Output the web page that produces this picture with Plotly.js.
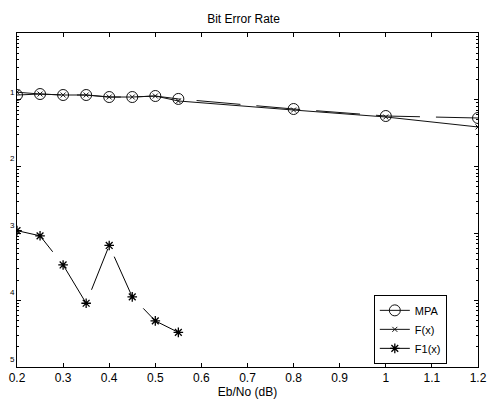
<!DOCTYPE html>
<html><head><meta charset="utf-8">
<script src="https://cdn.plot.ly/plotly-3.0.1.min.js"></script>
<style>html,body{margin:0;padding:0;background:#fff}#c{width:487px;height:400px}</style>
</head><body><div id="c"></div>
<script>
const xMPA = [0.2,0.25,0.3,0.35,0.4,0.45,0.5,0.55,0.8,1.0,1.2];
const yMPA = [0.118,0.122,0.118,0.118,0.110,0.110,0.114,0.103,0.0728,0.0572,0.0534];
const xF = [0.2,0.25,0.3,0.35,0.4,0.45,0.5,0.55,0.8,1.0,1.2];
const yF = [0.130,0.122,0.118,0.118,0.110,0.110,0.114,0.096,0.0703,0.0553,0.0392];
const xF1 = [0.2,0.25,0.3,0.35,0.4,0.45,0.5,0.55];
const yF1 = [1.10e-3,9.2e-4,3.37e-4,9.0e-5,6.6e-4,1.12e-4,4.9e-5,3.3e-5];
const xTicks = [0.2,0.3,0.4,0.5,0.6,0.7,0.8,0.9,1,1.1,1.2];
const xTickText = ['0.2','0.3','0.4','0.5','0.6','0.7','0.8','0.9','1','1.1','1.2'];
const yTicks = [1e-1,1e-2,1e-3,1e-4,1e-5];
const yTickText = ['1','2','3','4','5'];

const font = 'Liberation Sans, Arial, sans-serif';
const traces = [
  {x:xMPA, y:yMPA, name:'MPA', mode:'lines+markers', type:'scatter',
   line:{color:'#111', width:1, dash:'44px,16px'},
   marker:{symbol:'circle-open', size:11, color:'#111', line:{width:1}}},
  {x:xF, y:yF, name:'F(x)', mode:'lines+markers', type:'scatter',
   line:{color:'#111', width:1},
   marker:{symbol:'x-thin-open', size:5, color:'#111', line:{width:1}}},
  {x:xF1, y:yF1, name:'F1(x)', mode:'lines+markers', type:'scatter',
   line:{color:'#000', width:1, dash:'44px,16px'},
   marker:{symbol:'asterisk-open', size:8, color:'#000', line:{width:1.3}}}
];
const layout = {
  width:487, height:400,
  margin:{l:17, r:9, t:33, b:33},
  paper_bgcolor:'#fff', plot_bgcolor:'#fff',
  font:{family:font, size:12, color:'#000'},
  title:{text:'Bit Error Rate', font:{family:font, size:12, color:'#000'}, x:0.5, xanchor:'center', y:0.953, yanchor:'middle'},
  showlegend:true,
  legend:{x:0.774, y:0.216, xanchor:'left', yanchor:'top', bgcolor:'#fff', bordercolor:'#000', borderwidth:1,
          font:{family:font, size:11, color:'#000'}, tracegroupgap:0, itemwidth:30},
  xaxis:{range:[0.2,1.2], tickmode:'array', tickvals:xTicks, ticktext:xTickText,
         ticks:'inside', ticklen:4, tickcolor:'#000', showgrid:false, zeroline:false,
         showline:true, linecolor:'#000', linewidth:1, mirror:'ticks',
         tickfont:{family:font, size:12, color:'#000'},
         title:{text:'Eb/No (dB)', font:{family:font, size:12, color:'#000'}, standoff:2}},
  yaxis:{type:'log', range:[-5,0], tickmode:'array', tickvals:yTicks, ticktext:yTickText,
         ticks:'inside', ticklen:4, tickcolor:'#000', showgrid:false, zeroline:false,
         showline:true, linecolor:'#000', linewidth:1, mirror:'ticks',
         tickfont:{family:font, size:8, color:'#000'}, ticklabelstandoff:0, ticklabelshift:-8,
         minor:{ticks:'inside', ticklen:2, tickcolor:'#000', dtick:'D1', showgrid:false}}
};
Plotly.newPlot('c', traces, layout, {staticPlot:true, displayModeBar:false});
</script></body></html>
